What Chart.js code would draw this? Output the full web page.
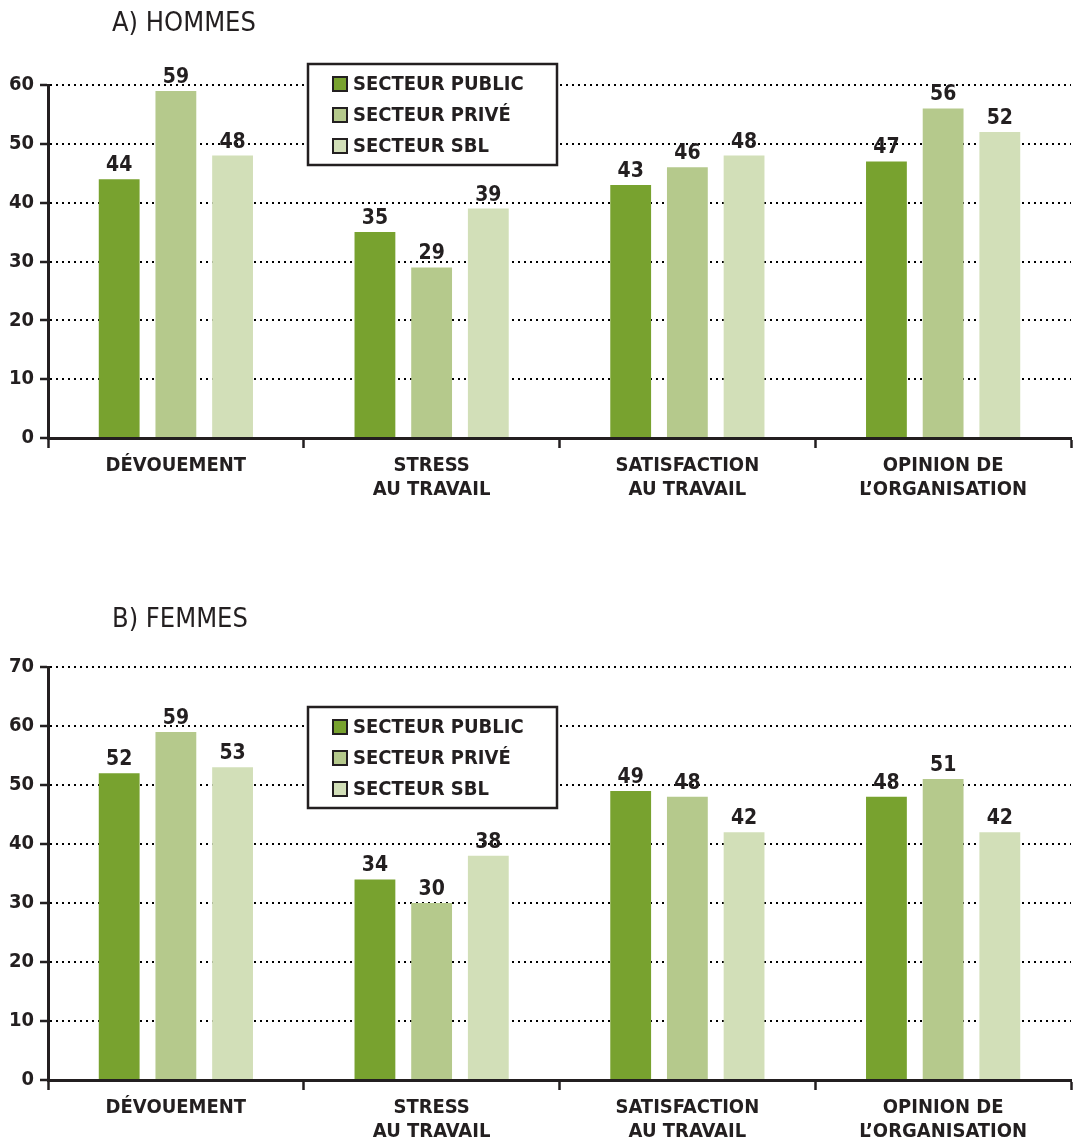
<!DOCTYPE html>
<html>
<head>
<meta charset="utf-8">
<script src="https://cdn.jsdelivr.net/npm/chart.js@4"></script>
<style>
  html, body { margin:0; padding:0; background:#fff; }
  canvas { display:block; }
</style>
</head>
<body>
<canvas id="chartA" width="1077" height="560"></canvas>
<canvas id="chartB" width="1077" height="587"></canvas>
<script>
// categories and series
const categories = ['DÉVOUEMENT', ['STRESS', 'AU TRAVAIL'], ['SATISFACTION', 'AU TRAVAIL'], ['OPINION DE', 'L’ORGANISATION']];
const seriesNames = ['SECTEUR PUBLIC', 'SECTEUR PRIVÉ', 'SECTEUR SBL'];
const seriesColors = ['#78a22f', '#b5c98c', '#d2dfb8'];

const hommesPublic = [44, 35, 43, 47];
const hommesPrive  = [59, 29, 46, 56];
const hommesSbl    = [48, 39, 48, 52];

const femmesPublic = [52, 34, 49, 48];
const femmesPrive  = [59, 30, 48, 51];
const femmesSbl    = [53, 38, 42, 42];

const ink = '#231f20';
const fontFam = '"DejaVu Sans Condensed", "DejaVu Sans", sans-serif';

// title, value labels and boxed legend
const decorPlugin = {
  id: 'decor',
  afterDatasetsDraw(chart, args, opts) {
    const ctx = chart.ctx;
    ctx.save();
    ctx.fillStyle = ink;
    ctx.font = 'bold 21px ' + fontFam;
    ctx.textAlign = 'center';
    ctx.textBaseline = 'bottom';
    chart.data.datasets.forEach((ds, i) => {
      chart.getDatasetMeta(i).data.forEach((bar, j) => {
        ctx.fillText(String(ds.data[j]), bar.x, bar.y - 3);
      });
    });
    ctx.restore();
  },
  afterDraw(chart, args, opts) {
    const ctx = chart.ctx;
    ctx.save();
    // title
    ctx.fillStyle = ink;
    ctx.font = '27px ' + fontFam;
    ctx.textAlign = 'left';
    ctx.textBaseline = 'middle';
    ctx.fillText(opts.title, 112, opts.titleY);
    // legend box
    const x = opts.legendX, y = opts.legendY, w = 249, h = 101;
    ctx.fillStyle = '#fff';
    ctx.fillRect(x, y, w, h);
    ctx.strokeStyle = ink;
    ctx.lineWidth = 2.5;
    ctx.strokeRect(x, y, w, h);
    ctx.font = 'bold 20px ' + fontFam;
    chart.data.datasets.forEach((ds, i) => {
      const cy = y + 20 + i * 31;
      ctx.fillStyle = ds.backgroundColor;
      ctx.fillRect(x + 25, cy - 7, 14, 14);
      ctx.lineWidth = 2;
      ctx.strokeRect(x + 25, cy - 7, 14, 14);
      ctx.fillStyle = ink;
      ctx.fillText(ds.label, x + 45, cy + 1);
    });
    ctx.restore();
  }
};

function makeChart(id, series, yMax, padTop, xHeight, decor) {
  return new Chart(document.getElementById(id), {
    type: 'bar',
    data: {
      labels: categories,
      datasets: series.map((d, i) => ({
        label: seriesNames[i],
        data: d,
        backgroundColor: seriesColors[i],
        borderWidth: 0,
        categoryPercentage: 0.665,
        barPercentage: 0.72
      }))
    },
    options: {
      responsive: false,
      animation: false,
      layout: { padding: { top: padTop, right: 6, left: 0, bottom: 0 } },
      plugins: {
        legend: { display: false },
        tooltip: { enabled: false },
        decor: decor
      },
      scales: {
        x: {
          afterFit: s => { s.height = xHeight; },
          grid: { offset: true, drawOnChartArea: false, tickLength: 10, tickWidth: 2.5, tickColor: ink },
          border: { color: ink, width: 3 },
          ticks: { color: ink, padding: 6, font: { family: fontFam, size: 20, weight: 'bold', lineHeight: 1.2 } }
        },
        y: {
          min: 0, max: yMax,
          afterFit: s => { s.width = 48; },
          grid: { color: '#000', lineWidth: 2, tickLength: 8, tickWidth: 2.5, tickColor: ink },
          border: { color: ink, width: 3, dash: [2, 4] },
          ticks: { stepSize: 10, color: ink, padding: 6, font: { family: fontFam, size: 20, weight: 'bold' } }
        }
      }
    },
    plugins: [decorPlugin]
  });
}

makeChart('chartA', [hommesPublic, hommesPrive, hommesSbl], 60, 85, 122,
  { title: 'A) HOMMES', titleY: 24, legendX: 308, legendY: 64 });
makeChart('chartB', [femmesPublic, femmesPrive, femmesSbl], 70, 107, 67,
  { title: 'B) FEMMES', titleY: 60, legendX: 308, legendY: 147 });
</script>
</body>
</html>
